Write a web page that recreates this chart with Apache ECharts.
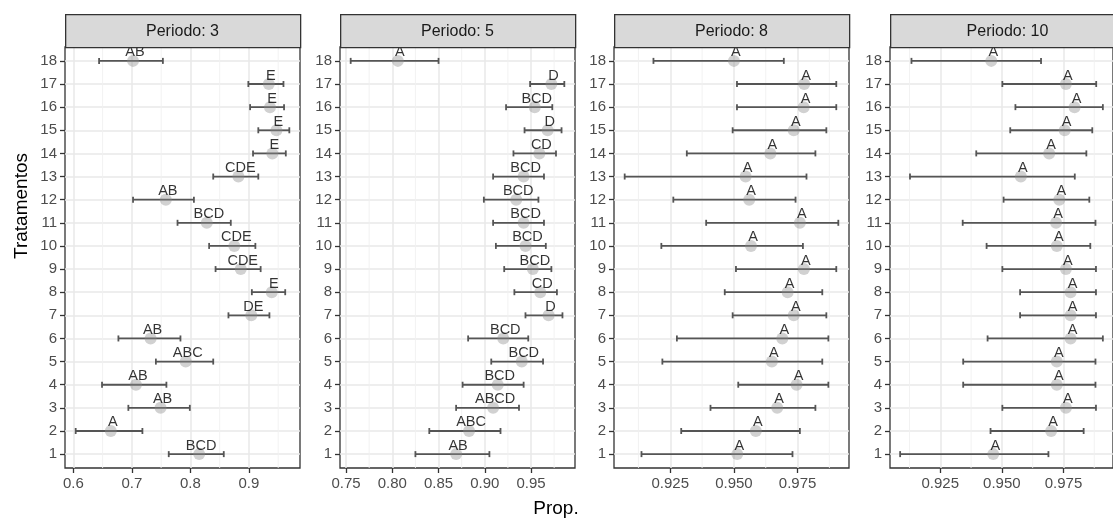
<!DOCTYPE html>
<html>
<head>
<meta charset="utf-8">
<script src="https://cdn.jsdelivr.net/npm/echarts@6/dist/echarts.min.js"></script>
<style>
html,body{margin:0;padding:0;background:#fff;}
#chart{width:1113px;height:519px;}
</style>
</head>
<body>
<div id="chart"></div>
<script>
// ---- data (rows = Tratamentos 1..18) ----
const treatments = [1,2,3,4,5,6,7,8,9,10,11,12,13,14,15,16,17,18];
const periods = ['Periodo: 3','Periodo: 5','Periodo: 8','Periodo: 10'];

const mean3 = [0.815,0.664,0.749,0.707,0.792,0.732,0.904,0.939,0.886,0.875,0.828,0.758,0.882,0.940,0.947,0.936,0.934,0.702];
const lo3   = [0.763,0.604,0.694,0.649,0.741,0.677,0.865,0.905,0.843,0.832,0.778,0.702,0.839,0.907,0.916,0.902,0.899,0.644];
const hi3   = [0.857,0.718,0.799,0.759,0.839,0.783,0.935,0.962,0.920,0.911,0.869,0.806,0.916,0.963,0.969,0.960,0.959,0.753];
const lab3  = ['BCD','A','AB','AB','ABC','AB','DE','E','CDE','CDE','BCD','AB','CDE','E','E','E','E','AB'];

const mean5 = [0.869,0.883,0.909,0.914,0.940,0.920,0.969,0.960,0.952,0.944,0.942,0.934,0.942,0.959,0.968,0.954,0.972,0.806];
const lo5   = [0.825,0.840,0.869,0.876,0.907,0.882,0.944,0.932,0.921,0.912,0.909,0.899,0.909,0.931,0.943,0.923,0.949,0.755];
const hi5   = [0.905,0.917,0.937,0.942,0.963,0.947,0.984,0.978,0.972,0.966,0.964,0.958,0.964,0.977,0.983,0.973,0.986,0.850];
const lab5  = ['AB','ABC','ABCD','BCD','BCD','BCD','D','CD','BCD','BCD','BCD','BCD','BCD','CD','D','BCD','D','A'];

const mean8 = [0.9513,0.9586,0.9670,0.9746,0.9649,0.9690,0.9735,0.9711,0.9775,0.9567,0.9759,0.9560,0.9546,0.9643,0.9735,0.9774,0.9776,0.9500];
const lo8   = [0.9137,0.9293,0.9408,0.9517,0.9219,0.9276,0.9495,0.9464,0.9508,0.9215,0.9391,0.9262,0.9071,0.9315,0.9495,0.9512,0.9512,0.9184];
const hi8   = [0.9730,0.9759,0.9820,0.9871,0.9847,0.9871,0.9863,0.9847,0.9902,0.9771,0.9910,0.9742,0.9785,0.9820,0.9863,0.9902,0.9902,0.9696];
const lab8  = ['A','A','A','A','A','A','A','A','A','A','A','A','A','A','A','A','A','A'];

const mean10 = [0.9465,0.9700,0.9760,0.9723,0.9723,0.9779,0.9779,0.9779,0.9760,0.9723,0.9720,0.9733,0.9577,0.9692,0.9755,0.9795,0.9760,0.9457];
const lo10   = [0.9087,0.9454,0.9502,0.9343,0.9343,0.9442,0.9574,0.9574,0.9502,0.9438,0.9341,0.9507,0.9127,0.9396,0.9534,0.9555,0.9502,0.9133];
const hi10   = [0.9689,0.9832,0.9882,0.9880,0.9880,0.9910,0.9882,0.9882,0.9882,0.9859,0.9880,0.9855,0.9796,0.9843,0.9867,0.9910,0.9883,0.9659];
const lab10  = ['A','A','A','A','A','A','A','A','A','A','A','A','A','A','A','A','A','A'];

const xTicks3 = [0.6,0.7,0.8,0.9];
const xTicks5 = [0.75,0.80,0.85,0.90,0.95];
const xTicks8 = [0.925,0.950,0.975];
const xTicks10 = [0.925,0.950,0.975];
const xMinor3 = [0.65,0.75,0.85,0.95];
const xMinor5 = [0.775,0.825,0.875,0.925,0.975];
const xMinor8 = [0.9125,0.9375,0.9625,0.9875];
const xMinor10 = [0.9125,0.9375,0.9625,0.9875];
const xDecimals = [1,2,3,3];

// ---- layout ----
const FONT = '"Liberation Sans", Arial, sans-serif';
const panelLeft = [65,340,614,890];
const panelW = 235, panelTop = 47, panelH = 421, stripTop = 14;

const panels = [
  {mean:mean3, lo:lo3, hi:hi3, lab:lab3, ticks:xTicks3, minor:xMinor3},
  {mean:mean5, lo:lo5, hi:hi5, lab:lab5, ticks:xTicks5, minor:xMinor5},
  {mean:mean8, lo:lo8, hi:hi8, lab:lab8, ticks:xTicks8, minor:xMinor8},
  {mean:mean10, lo:lo10, hi:hi10, lab:lab10, ticks:xTicks10, minor:xMinor10}
];

const grids = [], xAxes = [], yAxes = [], series = [], graphics = [];

panels.forEach((p, i) => {
  const dmin = Math.min(...p.lo), dmax = Math.max(...p.hi);
  const pad = (dmax - dmin) * 0.05;
  grids.push({left: panelLeft[i], top: panelTop, width: panelW, height: panelH,
    show: true, borderColor: '#333333', borderWidth: 1.3, backgroundColor: '#ffffff'});
  xAxes.push({
    type: 'value', gridIndex: i, min: dmin - pad, max: dmax + pad,
    axisLine: {show: false},
    axisTick: {show: true, length: 5, customValues: p.ticks, lineStyle: {color: '#333333', width: 1.3}},
    axisLabel: {customValues: p.ticks, color: '#4d4d4d', fontSize: 15, fontFamily: FONT, margin: 8,
      formatter: v => Number(v).toFixed(xDecimals[i])},
    splitLine: {show: true, lineStyle: {color: '#e8e8e8', width: 1.5}}
  });
  yAxes.push({
    type: 'value', gridIndex: i, min: 0.4, max: 18.6,
    axisLine: {show: false},
    axisTick: {show: true, length: 5, customValues: treatments, lineStyle: {color: '#333333', width: 1.3}},
    axisLabel: {customValues: treatments, color: '#4d4d4d', fontSize: 15, fontFamily: FONT, margin: 8,
      formatter: v => String(Math.round(v))},
    splitLine: {show: true, lineStyle: {color: '#e8e8e8', width: 1.5}}
  });
  // minor vertical grid lines
  series.push({
    type: 'custom', xAxisIndex: i, yAxisIndex: i, z: 1, silent: true,
    data: p.minor.map(v => [v]),
    renderItem: (params, api) => {
      const a = api.coord([api.value(0), 0.4]);
      const b = api.coord([api.value(0), 18.6]);
      return {type: 'line', shape: {x1: a[0], y1: a[1], x2: b[0], y2: b[1]},
        style: {stroke: '#f0f0f0', lineWidth: 0.9}};
    }
  });
  // error bars
  series.push({
    type: 'custom', xAxisIndex: i, yAxisIndex: i, z: 3, silent: true,
    data: treatments.map((t, k) => [p.lo[k], p.hi[k], t]),
    encode: {x: [0, 1], y: 2},
    renderItem: (params, api) => {
      const a = api.coord([api.value(0), api.value(2)]);
      const b = api.coord([api.value(1), api.value(2)]);
      const c = 3;
      const st = {stroke: '#555555', lineWidth: 1.8};
      return {type: 'group', children: [
        {type: 'line', shape: {x1: a[0], y1: a[1], x2: b[0], y2: b[1]}, style: st},
        {type: 'line', shape: {x1: a[0], y1: a[1]-c, x2: a[0], y2: a[1]+c}, style: st},
        {type: 'line', shape: {x1: b[0], y1: b[1]-c, x2: b[0], y2: b[1]+c}, style: st}
      ]};
    }
  });
  // points + letters
  series.push({
    type: 'scatter', xAxisIndex: i, yAxisIndex: i, z: 4, silent: true,
    symbol: 'circle', symbolSize: 12,
    itemStyle: {color: 'rgba(140,140,140,0.5)'},
    data: treatments.map((t, k) => [p.mean[k], t, p.lab[k]]),
    label: {show: true, position: 'top', distance: -5, offset: [2, 0],
      formatter: q => q.data[2], color: '#000000', fontSize: 14.5, fontFamily: FONT}
  });
  // strip
  graphics.push({type: 'rect', left: panelLeft[i], top: stripTop, z: 10,
    shape: {width: panelW, height: panelTop - stripTop},
    style: {fill: '#d9d9d9', stroke: '#333333', lineWidth: 1.3}});
  graphics.push({type: 'text', z: 11, x: panelLeft[i] + panelW / 2, y: (stripTop + panelTop) / 2 + 1,
    style: {text: periods[i], fill: '#1a1a1a', font: '16px ' + FONT, align: 'center', verticalAlign: 'middle'}});
});

graphics.push({type: 'text', z: 11, x: 22, y: 206, rotation: Math.PI / 2,
  style: {text: 'Tratamentos', fill: '#000000', font: '19px ' + FONT, align: 'center', verticalAlign: 'middle'}});
graphics.push({type: 'text', z: 11, x: 556, y: 509,
  style: {text: 'Prop.', fill: '#000000', font: '19px ' + FONT, align: 'center', verticalAlign: 'middle'}});

const chart = echarts.init(document.getElementById('chart'), null, {renderer: 'canvas'});
chart.setOption({
  animation: false,
  backgroundColor: '#ffffff',
  grid: grids, xAxis: xAxes, yAxis: yAxes, series: series, graphic: graphics
});
</script>
</body>
</html>
